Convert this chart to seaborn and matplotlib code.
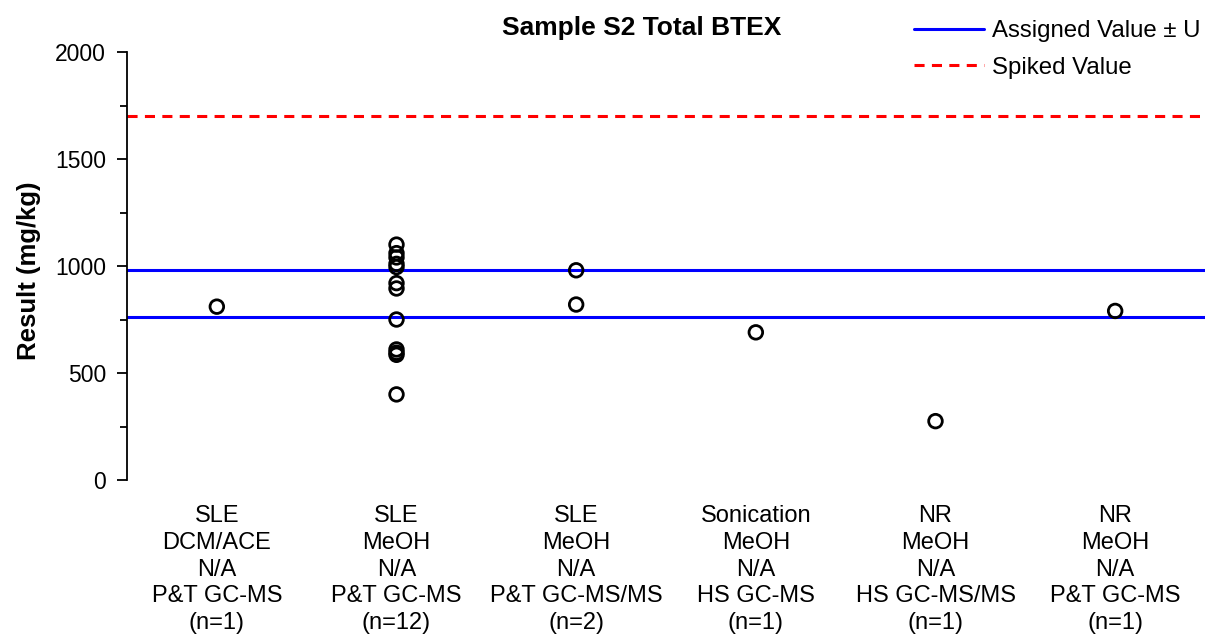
import matplotlib
matplotlib.use("Agg")
import matplotlib.pyplot as plt
import seaborn as sns
import pandas as pd
from matplotlib.lines import Line2D
from matplotlib.ticker import MultipleLocator

# Method groups (extraction / solvent / cleanup / instrument / count)
categories = [
    "SLE\nDCM/ACE\nN/A\nP&T GC-MS\n(n=1)",
    "SLE\nMeOH\nN/A\nP&T GC-MS\n(n=12)",
    "SLE\nMeOH\nN/A\nP&T GC-MS/MS\n(n=2)",
    "Sonication\nMeOH\nN/A\nHS GC-MS\n(n=1)",
    "NR\nMeOH\nN/A\nHS GC-MS/MS\n(n=1)",
    "NR\nMeOH\nN/A\nP&T GC-MS\n(n=1)",
]

# Reported results per method group (mg/kg)
results_sle_dcm = [810]
results_sle_meoh_gcms = [1100, 1060, 1040, 1010, 995, 920, 895, 750, 610, 595, 585, 400]
results_sle_meoh_gcmsms = [980, 820]
results_sonication = [690]
results_nr_hs = [275]
results_nr_pt = [790]

assigned_upper = 980
assigned_lower = 760
spiked_value = 1700

groups = [results_sle_dcm, results_sle_meoh_gcms, results_sle_meoh_gcmsms,
          results_sonication, results_nr_hs, results_nr_pt]
df = pd.DataFrame({
    "Method": [cat for cat, vals in zip(categories, groups) for _ in vals],
    "Result": [v for vals in groups for v in vals],
})

sns.set_style("white")
plt.rcParams["font.family"] = ["Liberation Sans", "DejaVu Sans"]
for key in ["text.color", "axes.labelcolor", "xtick.color", "ytick.color"]:
    plt.rcParams[key] = "black"

DASH = (0, (3.3, 2.4))

fig = plt.figure(figsize=(12.05, 6.37), dpi=100)
ax = fig.add_axes([127 / 1205, 1 - 480 / 637, 1 - 127 / 1205, (480 - 52) / 637])

ax.axhline(assigned_upper, color="#0000FF", lw=2.2, zorder=1)
ax.axhline(assigned_lower, color="#0000FF", lw=2.2, zorder=1)
ax.axhline(spiked_value, color="#FF0000", lw=2.2, ls=DASH, zorder=1)

sns.stripplot(data=df, x="Method", y="Result", order=categories, jitter=False,
              marker="o", size=9.8, color="black", linewidth=2, ax=ax, zorder=3)
for coll in ax.collections:
    coll.set_facecolor("none")
    coll.set_edgecolor("black")

ax.set_xlim(-0.5, len(categories) - 0.5)
ax.set_ylim(0, 2000)
ax.yaxis.set_major_locator(MultipleLocator(500))
ax.yaxis.set_minor_locator(MultipleLocator(250))
ax.tick_params(axis="y", which="major", direction="out", length=7, width=1.3,
               labelsize=16.5, left=True, pad=8)
ax.tick_params(axis="y", which="minor", direction="out", length=5, width=1.3, left=True)
ax.tick_params(axis="x", length=0, labelsize=17, pad=18)
for lab in ax.get_xticklabels():
    lab.set_linespacing(1.28)

for side in ["top", "right", "bottom"]:
    ax.spines[side].set_visible(False)
ax.spines["left"].set_linewidth(1.3)
ax.spines["left"].set_color("black")

ax.set_xlabel("")
ax.set_ylabel("Result (mg/kg)", fontsize=18.5, fontweight="bold")
ax.yaxis.set_label_coords(-0.080, (480 - 271) / 428)

fig.text(642 / 1205, 1 - 28 / 637, "Sample S2 Total BTEX", ha="center", va="center",
         fontsize=19, fontweight="bold")

handles = [
    Line2D([], [], color="#0000FF", lw=2.2),
    Line2D([], [], color="#FF0000", lw=2.2, ls=DASH),
]
fig.legend(handles, ["Assigned Value ± U", "Spiked Value"], loc="upper right",
           bbox_to_anchor=(1.0 + 10 / 1205, 1.0 - 6 / 637), frameon=False, fontsize=17.3,
           handlelength=2.9, handletextpad=0.35, labelspacing=0.6,
           borderaxespad=0.2)

fig.savefig("out.png", dpi=100)
